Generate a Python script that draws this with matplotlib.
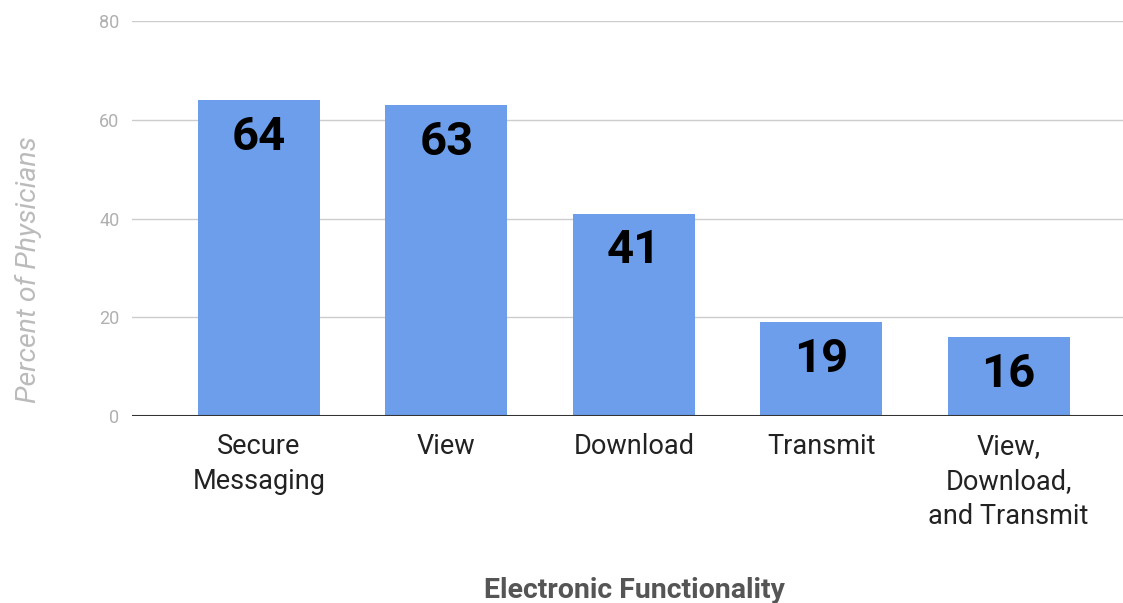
import matplotlib.pyplot as plt

# data
categories = ['Secure\nMessaging', 'View', 'Download', 'Transmit', 'View,\nDownload,\nand Transmit']
values = [64, 63, 41, 19, 16]
y_ticks = [0, 20, 40, 60, 80]

plt.rcParams['font.family'] = ['Roboto', 'DejaVu Sans']

fig = plt.figure(figsize=(11.23, 6.03), dpi=100)
ax = fig.add_axes([132/1123, 1 - 416/603, 1 - 132/1123, (416 - 21)/603])

x = list(range(len(values)))
ax.bar(x, values, width=0.65, color='#6d9eeb', zorder=3)

for xi, v in zip(x, values):
    ax.annotate(str(v), (xi, v), xytext=(0, -26.5), textcoords='offset points',
                ha='center', va='center', fontsize=34, fontweight='bold', color='black', zorder=4)

ax.set_xlim(-0.677, 4.61)
ax.set_ylim(0, 80)
ax.set_yticks(y_ticks)
ax.yaxis.grid(True, color='#cccccc', linewidth=1, zorder=0)
ax.axhline(0, color='#333333', linewidth=1.5, zorder=5)

for s in ax.spines.values():
    s.set_visible(False)

ax.tick_params(axis='y', length=0, pad=9, labelsize=13, labelcolor='#b0b0b0')
ax.tick_params(axis='x', length=0, pad=12, labelsize=19.5, labelcolor='#222222')
ax.set_xticks(x)
ax.set_xticklabels(categories, linespacing=1.4, va='top')

ax.set_ylabel('Percent of Physicians', fontsize=20.5, style='italic', color='#bbbbbb')
ax.yaxis.set_label_coords(-0.091, 0.37)
fig.text(0.565, 1 - 590/603, 'Electronic Functionality', ha='center', va='center',
         fontsize=20.5, fontweight='bold', color='#555555')

fig.savefig('out.png', dpi=100)
